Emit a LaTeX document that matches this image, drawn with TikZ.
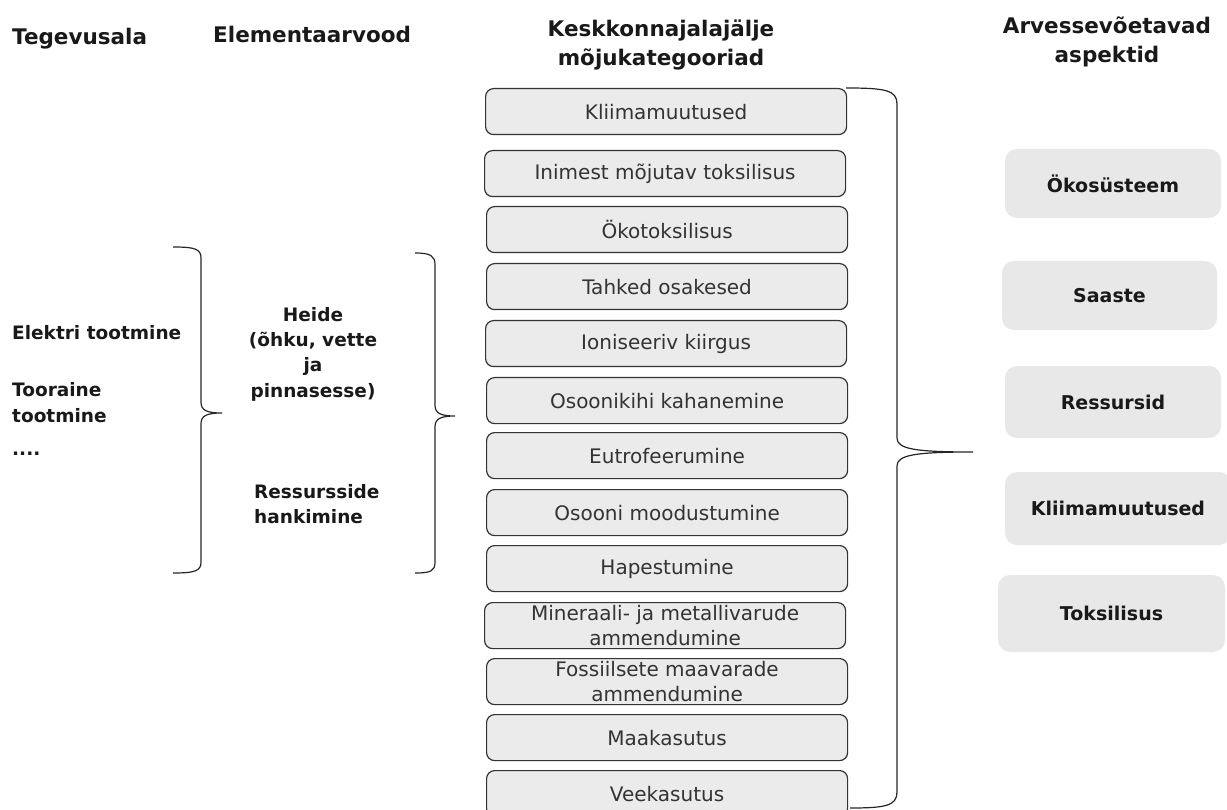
\documentclass[tikz,border=0pt]{standalone}
\usepackage{fontspec}
\setmainfont{DejaVu Sans}
\definecolor{boxfill}{HTML}{EBEBEB}
\definecolor{aspfill}{HTML}{E8E8E8}
\definecolor{boxline}{HTML}{333333}
\definecolor{txt}{HTML}{333333}
\tikzset{
  catbox/.style={draw=boxline, fill=boxfill, rounded corners=8pt, line width=1.2pt,
    minimum width=361pt, minimum height=46pt, inner sep=0pt, align=center,
    text=txt, font=\fontsize{20}{25}\selectfont, anchor=north west},
  aspbox/.style={fill=aspfill, rounded corners=12pt, inner sep=0pt,
    font=\bfseries\fontsize{19}{23}\selectfont, text=black!90},
  header/.style={font=\bfseries\fontsize{21.5}{29}\selectfont, inner sep=0pt, text=black!90},
  lbl/.style={font=\bfseries\fontsize{18.5}{25}\selectfont, inner sep=0pt, text=black!90},
  bracel/.style={draw=black!85, line width=1.2pt}
}
\begin{document}
\begin{tikzpicture}[x=1pt,y=-1pt]
\useasboundingbox (0,0) rectangle (1227,810);
% headers
\node[header, anchor=base west] (h1) at (12,45) {Tegevusala};
\node[header, anchor=base west] (h2) at (213,43) {Elementaarvood};
\node[header, anchor=base] (h3a) at (661,37) {Keskkonnajalajälje};
\node[header, anchor=base] (h3b) at (661,66) {mõjukategooriad};
\node[header, anchor=base] (h4a) at (1107,34) {Arvessevõetavad};
\node[header, anchor=base] (h4b) at (1107,63) {aspektid};
% left column
\node[lbl, anchor=base west] (l1) at (12,340) {Elektri tootmine};
\node[lbl, anchor=base west] (l2) at (12,396) {Tooraine};
\node[lbl, anchor=base west] (l3) at (12,423) {tootmine};
\node[lbl, anchor=base west] (l4) at (12,455) {....};
% element flows
\node[lbl, anchor=base] (e1) at (313,322) {Heide};
\node[lbl, anchor=base] (e2) at (313,347) {(õhku, vette};
\node[lbl, anchor=base] (e3) at (313,372) {ja};
\node[lbl, anchor=base] (e4) at (313,398) {pinnasesse)};
\node[lbl, anchor=base west] (r1) at (254,498) {Ressursside};
\node[lbl, anchor=base west] (r2) at (254,523) {hankimine};
% category boxes
\node[catbox] (c1) at (485,88) {Kliimamuutused};
\node[catbox] (c2) at (484,150) {Inimest mõjutav toksilisus};
\node[catbox] (c3) at (486,206) {Ökotoksilisus};
\node[catbox] (c4) at (486,263) {Tahked osakesed};
\node[catbox] (c5) at (485,320) {Ioniseeriv kiirgus};
\node[catbox] (c6) at (486,377) {Osoonikihi kahanemine};
\node[catbox] (c7) at (486,432) {Eutrofeerumine};
\node[catbox] (c8) at (486,489) {Osooni moodustumine};
\node[catbox] (c9) at (486,545) {Hapestumine};
\node[catbox] (c10) at (484,602) {Mineraali- ja metallivarude\\ammendumine};
\node[catbox] (c11) at (486,658) {Fossiilsete maavarade\\ammendumine};
\node[catbox] (c12) at (486,714) {Maakasutus};
\node[catbox] (c13) at (486,770) {Veekasutus};
% aspect boxes
\node[aspbox, minimum width=216pt, minimum height=69pt] (a1) at (1113,183.5) {Ökosüsteem};
\node[aspbox, minimum width=215pt, minimum height=69pt] (a2) at (1109.5,295.5) {Saaste};
\node[aspbox, minimum width=216pt, minimum height=72pt] (a3) at (1113,402) {Ressursid};
\node[aspbox, minimum width=226pt, minimum height=73pt] (a4) at (1118,508.5) {Kliimamuutused};
\node[aspbox, minimum width=227pt, minimum height=77pt] (a5) at (1111.5,613.5) {Toksilisus};
% braces
\draw[bracel] (173,247) .. controls (195,247) and (201,249) .. (201,258) -- (201,402)
  .. controls (201,410) and (206,413) .. (222,413)
  .. controls (206,413) and (201,416) .. (201,424) -- (201,562)
  .. controls (201,571) and (195,573) .. (173,573);
\draw[bracel] (415,253) .. controls (431,253) and (435,256) .. (435,265) -- (435,405)
  .. controls (435,413) and (440,416) .. (455,416)
  .. controls (440,416) and (435,419) .. (435,427) -- (435,562)
  .. controls (435,571) and (431,573) .. (415,573);
\draw[bracel] (846,88) .. controls (885,88) and (897,90) .. (897,104) -- (897,438)
  .. controls (897,449) and (915,452) .. (973,452)
  .. controls (915,452) and (897,455) .. (897,466) -- (897,792)
  .. controls (897,806) and (885,808) .. (850,808);
\end{tikzpicture}
\end{document}
